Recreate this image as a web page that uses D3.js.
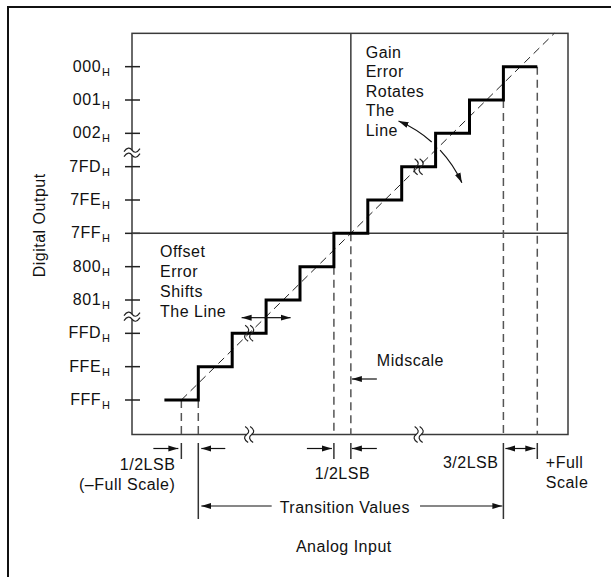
<!DOCTYPE html>
<html>
<head>
<meta charset="utf-8">
<script src="https://cdn.jsdelivr.net/npm/d3@7"></script>
<style>
  html, body { margin: 0; padding: 0; background: #fff; overflow: hidden; }
  svg { display: block; }
  svg text { font-family: 'Liberation Sans', Arial, Helvetica, sans-serif; font-size: 16px; letter-spacing: 0.5px; fill: #111; }
</style>
</head>
<body>
<div id="chart"></div>
<script>
// output codes, bottom to top
const codeLabels = ['FFF', 'FFE', 'FFD', '801', '800', '7FF', '7FE', '7FD', '002', '001', '000']
// staircase: input (LSB) where each code starts, and the code
const stepInputs = [0, 1, 2, 3, 4, 5, 6, 7, 8, 9, 10, 11]
const stepCodes = [0, 1, 2, 3, 4, 5, 6, 7, 8, 9, 10, 10]
// ideal transfer line through step centres
const idealInputs = [0.5, 11.5]
const idealCodes = [0, 11]
// dashed guides dropped to the axis
const guideInputs = [0.5, 1, 5, 5.5, 10, 11]
const guideCodes = [0, 0, 4, 5, 9, 10]
const guideLong = [false, true, false, false, true, false]
// midscale
const midInput = 5.5
const midCode = 5
// broken-axis marks
const breakInputs = [2.5, 7.5]
const breakCodes = [2.5, 7.42]
const gainLines = ['Gain', 'Error', 'Rotates', 'The', 'Line']
const offsetLines = ['Offset', 'Error', 'Shifts', 'The Line']

const width = 611
const height = 577
const frame = { left: 132, right: 568, bottom: 434.5 }

const svg = d3.select('#chart').append('svg').attr('width', width).attr('height', height)

const defs = svg.append('defs')
defs
  .append('marker')
  .attr('id', 'head')
  .attr('viewBox', '0 -4 10 8')
  .attr('refX', 10)
  .attr('refY', 0)
  .attr('markerWidth', 10)
  .attr('markerHeight', 8)
  .attr('markerUnits', 'userSpaceOnUse')
  .attr('orient', 'auto-start-reverse')
  .append('path')
  .attr('d', 'M0,-3L10,0L0,3Z')
  .attr('fill', '#111')

const x = d3.scaleLinear().domain([0, 11]).range([164.4, 537.3])
const y = d3.scaleLinear().domain([0, 10]).range([400, 66.67])
frame.top = y(11)

// outer border (right and bottom fall outside the picture)
svg
  .append('rect')
  .attr('x', 8)
  .attr('y', 7)
  .attr('width', width + 20)
  .attr('height', height + 20)
  .attr('fill', 'none')
  .attr('stroke', '#111')
  .attr('stroke-width', 2)

// plot frame
svg
  .append('rect')
  .attr('x', frame.left)
  .attr('y', frame.top)
  .attr('width', frame.right - frame.left)
  .attr('height', frame.bottom - frame.top)
  .attr('fill', 'none')
  .attr('stroke', '#3a3a3a')
  .attr('stroke-width', 1.5)

// y ticks and labels
const yAxis = svg.append('g')
yAxis
  .selectAll('line')
  .data(codeLabels)
  .enter()
  .append('line')
  .attr('x1', frame.left - 7)
  .attr('x2', frame.left + 8)
  .attr('y1', (d, i) => y(i))
  .attr('y2', (d, i) => y(i))
  .attr('stroke', '#222')
  .attr('stroke-width', 1.5)
const yLabel = yAxis
  .selectAll('text')
  .data(codeLabels)
  .enter()
  .append('text')
  .attr('x', 110)
  .attr('y', (d, i) => y(i) + 5)
  .attr('text-anchor', 'end')
yLabel.append('tspan').text((d) => d)
yLabel
  .append('tspan')
  .attr('dy', 4)
  .attr('dx', 1)
  .style('font-size', '11px')
  .style('letter-spacing', '0px')
  .text('H')

// midscale cross lines
svg
  .append('line')
  .attr('x1', frame.left)
  .attr('x2', frame.right)
  .attr('y1', y(midCode))
  .attr('y2', y(midCode))
  .attr('stroke', '#3a3a3a')
  .attr('stroke-width', 1.5)
svg
  .append('line')
  .attr('x1', x(midInput))
  .attr('x2', x(midInput))
  .attr('y1', frame.top)
  .attr('y2', y(midCode))
  .attr('stroke', '#3a3a3a')
  .attr('stroke-width', 1.5)

// dashed guides
const guides = d3.range(guideInputs.length)
svg
  .append('g')
  .selectAll('line')
  .data(guides)
  .enter()
  .append('line')
  .attr('x1', (i) => x(guideInputs[i]))
  .attr('x2', (i) => x(guideInputs[i]))
  .attr('y1', (i) => y(guideCodes[i]))
  .attr('y2', frame.bottom)
  .attr('stroke', '#555')
  .attr('stroke-width', 1.5)
  .attr('stroke-dasharray', '8,5')

// ticks below the axis
svg
  .append('g')
  .selectAll('line')
  .data(guides)
  .enter()
  .append('line')
  .attr('x1', (i) => x(guideInputs[i]))
  .attr('x2', (i) => x(guideInputs[i]))
  .attr('y1', frame.bottom + 8.5)
  .attr('y2', (i) => frame.bottom + (guideLong[i] ? 84.5 : 24.5))
  .attr('stroke', '#333')
  .attr('stroke-width', 1.5)

// ideal line
const line = d3
  .line()
  .x((d) => x(d[0]))
  .y((d) => y(d[1]))
svg
  .append('path')
  .datum(d3.zip(idealInputs, idealCodes))
  .attr('d', line)
  .attr('fill', 'none')
  .attr('stroke', '#222')
  .attr('stroke-width', 1)
  .attr('stroke-dasharray', '8,5')

// staircase
svg
  .append('path')
  .datum(d3.zip(stepInputs, stepCodes))
  .attr('d', line.curve(d3.curveStepAfter))
  .attr('fill', 'none')
  .attr('stroke', '#000')
  .attr('stroke-width', 3)
line.curve(d3.curveLinear)

// break marks
const wave = 'M-8,1.5C-5,-3 -2,-3 0,0S5,3 8,-1.5'
function breakMark(cx, cy, vertical, gap) {
  const g = svg.append('g').attr('transform', `translate(${cx},${cy})${vertical ? ' rotate(90)' : ''}`)
  if (gap) g.append('rect').attr('x', -8).attr('y', -2.5).attr('width', 16).attr('height', 5).attr('fill', '#fff')
  for (const off of [-2.5, 2.5]) {
    g.append('path')
      .attr('d', wave)
      .attr('transform', `translate(0,${off})`)
      .attr('fill', 'none')
      .attr('stroke', '#222')
      .attr('stroke-width', 1.2)
  }
}
breakCodes.forEach((c) => breakMark(frame.left, y(c), false, true))
breakInputs.forEach((u) => breakMark(x(u), frame.bottom, true, true))
breakInputs.forEach((u) => breakMark(x(u), y(Math.floor(u)), true, false))

// arrow helper
function arrow(x1, y1, x2, y2, both) {
  svg
    .append('line')
    .attr('x1', x1)
    .attr('y1', y1)
    .attr('x2', x2)
    .attr('y2', y2)
    .attr('stroke', '#111')
    .attr('stroke-width', 1.2)
    .attr('marker-end', 'url(#head)')
    .attr('marker-start', both ? 'url(#head)' : null)
}

// dimension arrows under the axis
const dimY = frame.bottom + 14
arrow(x(0.5) - 28, dimY, x(0.5) - 3, dimY)
arrow(x(1) + 27, dimY, x(1) + 3, dimY)
arrow(x(5) - 27, dimY, x(5) - 2, dimY)
arrow(x(5.5) + 26, dimY, x(5.5) + 1, dimY)
arrow(x(10) + 2, dimY, x(11) - 2, dimY, true)

function label(txt, px, py, anchor) {
  return svg.append('text').attr('x', px).attr('y', py).attr('text-anchor', anchor || 'start').text(txt)
}
label('1/2LSB', x(0.5) - 6, 470, 'end')
label('(\u2013Full Scale)', x(0.5) - 6, 490, 'end')
label('1/2LSB', (x(5) + x(5.5)) / 2, 479, 'middle')
label('3/2LSB', x(10) - 5, 468, 'end')
label('+Full', x(11) + 8.5, 468)
label('Scale', x(11) + 8.5, 488)

// transition values span
const tvCenter = (x(1) + x(10)) / 2 - 6
const tv = label('Transition Values', tvCenter, 513, 'middle')
const tvHalf = tv.node().getComputedTextLength() / 2
arrow(tvCenter - tvHalf - 8, 506, x(1) + 3, 506)
arrow(tvCenter + tvHalf + 10, 506, x(10) - 1, 506)

label('Analog Input', tvCenter - 1, 552, 'middle')

svg
  .append('text')
  .attr('transform', `translate(44.5,${(y(10) + y(0)) / 2 - 8}) rotate(-90)`)
  .attr('text-anchor', 'middle')
  .text('Digital Output')

// midscale callout
label('Midscale', x(midInput) + 26, 365.5)
arrow(x(midInput) + 26, 379, x(midInput) + 1, 379)

// offset error callout
offsetLines.forEach((t, i) => label(t, 160, 257 + i * 20))
arrow(x(3), y(2.47), x(3) - 24.5, y(2.47))
arrow(x(3), y(2.47), x(3) + 24.5, y(2.47))

// gain error callout, arcs about the midscale point
gainLines.forEach((t, i) => label(t, 365.7, 57.5 + i * 19.6))
const cx = x(midInput)
const cy = y(midCode)
const r = 122
const rad = (deg) => (deg * Math.PI) / 180
const up = d3.path()
up.arc(cx, cy, r, rad(-48.5), rad(-67), true)
const down = d3.path()
down.arc(cx, cy, r, rad(-43), rad(-24.5), false)
for (const p of [up, down]) {
  svg
    .append('path')
    .attr('d', p.toString())
    .attr('fill', 'none')
    .attr('stroke', '#111')
    .attr('stroke-width', 1.2)
    .attr('marker-end', 'url(#head)')
}
</script>
</body>
</html>
